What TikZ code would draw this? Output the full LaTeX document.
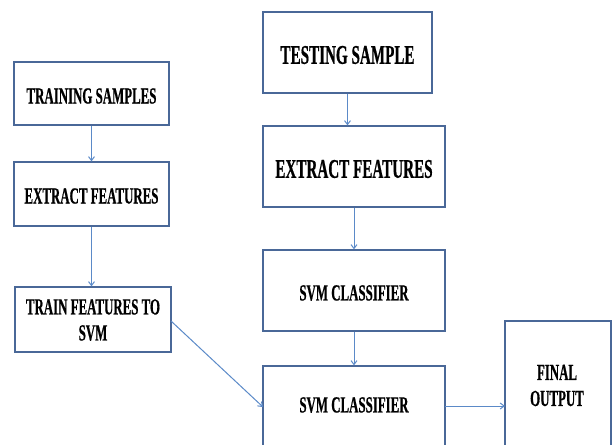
\documentclass[tikz,border=0pt]{standalone}
\usepackage{fontspec}
\usetikzlibrary{arrows.meta}
\newfontfamily\boxfont[FakeStretch=0.56,FakeBold=0.6]{Liberation Serif}
\definecolor{boxline}{HTML}{4A6898}
\definecolor{arrowline}{HTML}{5B8AC8}
\tikzset{
  x=1pt, y=-1pt,
  boxshape/.style={draw=boxline, line width=1.2pt},
  lbl/.style={font=\boxfont\bfseries\fontsize{23}{26}\selectfont, align=center, inner sep=0pt, text=black},
  biglbl/.style={font=\boxfont\bfseries\fontsize{27}{30}\selectfont, align=center, inner sep=0pt, text=black},
  conn/.style={draw=arrowline, line width=1pt, -{Straight Barb[length=4pt,width=6pt]}}
}
\begin{document}
\begin{tikzpicture}
\useasboundingbox (0,0) rectangle (614,445);
\clip (0,0) rectangle (614,445);
% boxes
\node[boxshape, minimum width=155pt, minimum height=63pt, inner sep=0pt] (ts) at (91.5,93.5) {};
\node[boxshape, minimum width=155pt, minimum height=64pt, inner sep=0pt] (ef) at (91.5,194) {};
\node[boxshape, minimum width=156pt, minimum height=65pt, inner sep=0pt] (tf) at (93,319.5) {};
\node[boxshape, minimum width=169pt, minimum height=81pt, inner sep=0pt] (te) at (347.5,52.5) {};
\node[boxshape, minimum width=182pt, minimum height=81pt, inner sep=0pt] (ef2) at (354,166.5) {};
\node[boxshape, minimum width=182pt, minimum height=81pt, inner sep=0pt] (svm1) at (354,290.5) {};
\node[boxshape, minimum width=182pt, minimum height=100pt, inner sep=0pt] (svm2) at (354,416) {};
\node[boxshape, minimum width=106pt, minimum height=140pt, inner sep=0pt] (fo) at (558,391) {};
% labels
\node[lbl] (tsl) at (91.5,96) {TRAINING SAMPLES};
\node[lbl] (efl) at (91.5,196) {EXTRACT FEATURES};
\node[lbl] (tfl) at (93,320) {TRAIN FEATURES TO\\SVM};
\node[biglbl] (tel) at (347.5,55) {TESTING SAMPLE};
\node[biglbl] (ef2l) at (354,169) {EXTRACT FEATURES};
\node[lbl] (svm1l) at (354,293) {SVM CLASSIFIER};
\node[lbl] (svm2l) at (354,405) {SVM CLASSIFIER};
\node[lbl] (fol) at (557,385.5) {FINAL\\OUTPUT};
% connectors
\draw[conn] (ts.south) -- (ef.north);
\draw[conn] (ef.south) -- (ef.south |- tf.north);
\draw[conn] (te.south) -- (te.south |- ef2.north);
\draw[conn] (ef2.south) -- (svm1.north);
\draw[conn] (svm1.south) -- (svm2.north);
\coordinate (tfr) at (171,321);
\coordinate (svml) at (263,407);
\draw[conn] (tfr) -- (svml);
\coordinate (svmr) at (445,406);
\coordinate (fol2) at (505,406);
\draw[conn] (svmr) -- (fol2);
\end{tikzpicture}
\end{document}
